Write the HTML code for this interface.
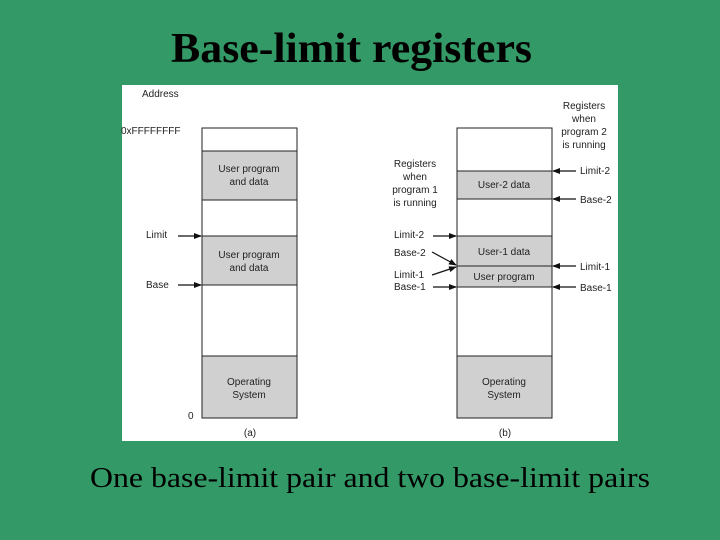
<!DOCTYPE html>
<html><head><meta charset="utf-8"><style>
html,body{margin:0;padding:0;background:#339966;}
svg{display:block}
</style></head><body>
<svg width="720" height="540" viewBox="0 0 720 540" xmlns="http://www.w3.org/2000/svg">
<defs><marker id="a" markerWidth="8" markerHeight="6" refX="7" refY="3" orient="auto" markerUnits="userSpaceOnUse"><path d="M0,0 L8,3 L0,6 Z" fill="#111"/></marker></defs>
<rect width="720" height="540" fill="#339966"/>
<text x="171" y="62" font-family="Liberation Serif" font-weight="bold" font-size="42" textLength="361" lengthAdjust="spacingAndGlyphs" fill="#000">Base-limit registers</text>
<rect x="122" y="85" width="496" height="356" fill="#fff"/>
<g font-family="Liberation Sans" font-size="10" fill="#222">
<!-- left -->
<rect x="202" y="151" width="95" height="49" fill="#d0d0d0"/>
<rect x="202" y="236" width="95" height="49" fill="#d0d0d0"/>
<rect x="202" y="356" width="95" height="62" fill="#d0d0d0"/>
<rect x="202" y="128" width="95" height="290" fill="none" stroke="#222" stroke-width="1"/>
<g stroke="#222"><line x1="202" y1="151" x2="297" y2="151"/><line x1="202" y1="200" x2="297" y2="200"/><line x1="202" y1="236" x2="297" y2="236"/><line x1="202" y1="285" x2="297" y2="285"/><line x1="202" y1="356" x2="297" y2="356"/></g>
<text x="142" y="97">Address</text>
<text x="121" y="134">0xFFFFFFFF</text>
<text x="249" y="172" text-anchor="middle">User program</text><text x="249" y="185" text-anchor="middle">and data</text>
<text x="249" y="258" text-anchor="middle">User program</text><text x="249" y="271" text-anchor="middle">and data</text>
<text x="249" y="385" text-anchor="middle">Operating</text><text x="249" y="398" text-anchor="middle">System</text>
<text x="146" y="238">Limit</text><text x="146" y="288">Base</text>
<text x="188" y="419">0</text><text x="250" y="436" text-anchor="middle">(a)</text>
<g stroke="#111" stroke-width="1.2"><line x1="178" y1="236" x2="201" y2="236" marker-end="url(#a)"/><line x1="178" y1="285" x2="201" y2="285" marker-end="url(#a)"/></g>
<!-- right -->
<rect x="457" y="171" width="95" height="28" fill="#d0d0d0"/>
<rect x="457" y="236" width="95" height="51" fill="#d0d0d0"/>
<rect x="457" y="356" width="95" height="62" fill="#d0d0d0"/>
<rect x="457" y="128" width="95" height="290" fill="none" stroke="#222"/>
<g stroke="#222"><line x1="457" y1="171" x2="552" y2="171"/><line x1="457" y1="199" x2="552" y2="199"/><line x1="457" y1="236" x2="552" y2="236"/><line x1="457" y1="266" x2="552" y2="266"/><line x1="457" y1="287" x2="552" y2="287"/><line x1="457" y1="356" x2="552" y2="356"/></g>
<text x="504" y="188" text-anchor="middle">User-2 data</text>
<text x="504" y="255" text-anchor="middle">User-1 data</text>
<text x="504" y="280" text-anchor="middle">User program</text>
<text x="504" y="385" text-anchor="middle">Operating</text><text x="504" y="398" text-anchor="middle">System</text>
<text x="505" y="436" text-anchor="middle">(b)</text>
<text x="415" y="167" text-anchor="middle">Registers</text><text x="415" y="180" text-anchor="middle">when</text><text x="415" y="193" text-anchor="middle">program 1</text><text x="415" y="206" text-anchor="middle">is running</text>
<text x="584" y="109" text-anchor="middle">Registers</text><text x="584" y="122" text-anchor="middle">when</text><text x="584" y="135" text-anchor="middle">program 2</text><text x="584" y="148" text-anchor="middle">is running</text>
<text x="394" y="238">Limit-2</text><text x="394" y="256">Base-2</text><text x="394" y="278">Limit-1</text><text x="394" y="290">Base-1</text>
<text x="580" y="174">Limit-2</text><text x="580" y="203">Base-2</text><text x="580" y="270">Limit-1</text><text x="580" y="291">Base-1</text>
<g stroke="#111" stroke-width="1.2">
<line x1="433" y1="236" x2="456" y2="236" marker-end="url(#a)"/>
<line x1="432" y1="252" x2="456" y2="265" marker-end="url(#a)"/>
<line x1="432" y1="275" x2="456" y2="267" marker-end="url(#a)"/>
<line x1="433" y1="287" x2="456" y2="287" marker-end="url(#a)"/>
<line x1="576" y1="171" x2="553" y2="171" marker-end="url(#a)"/>
<line x1="576" y1="199" x2="553" y2="199" marker-end="url(#a)"/>
<line x1="576" y1="266" x2="553" y2="266" marker-end="url(#a)"/>
<line x1="576" y1="287" x2="553" y2="287" marker-end="url(#a)"/>
</g>
</g>
<text x="90" y="487" font-family="Liberation Serif" font-size="28" textLength="560" lengthAdjust="spacingAndGlyphs" fill="#000">One base-limit pair and two base-limit pairs</text>
</svg>
</body></html>
